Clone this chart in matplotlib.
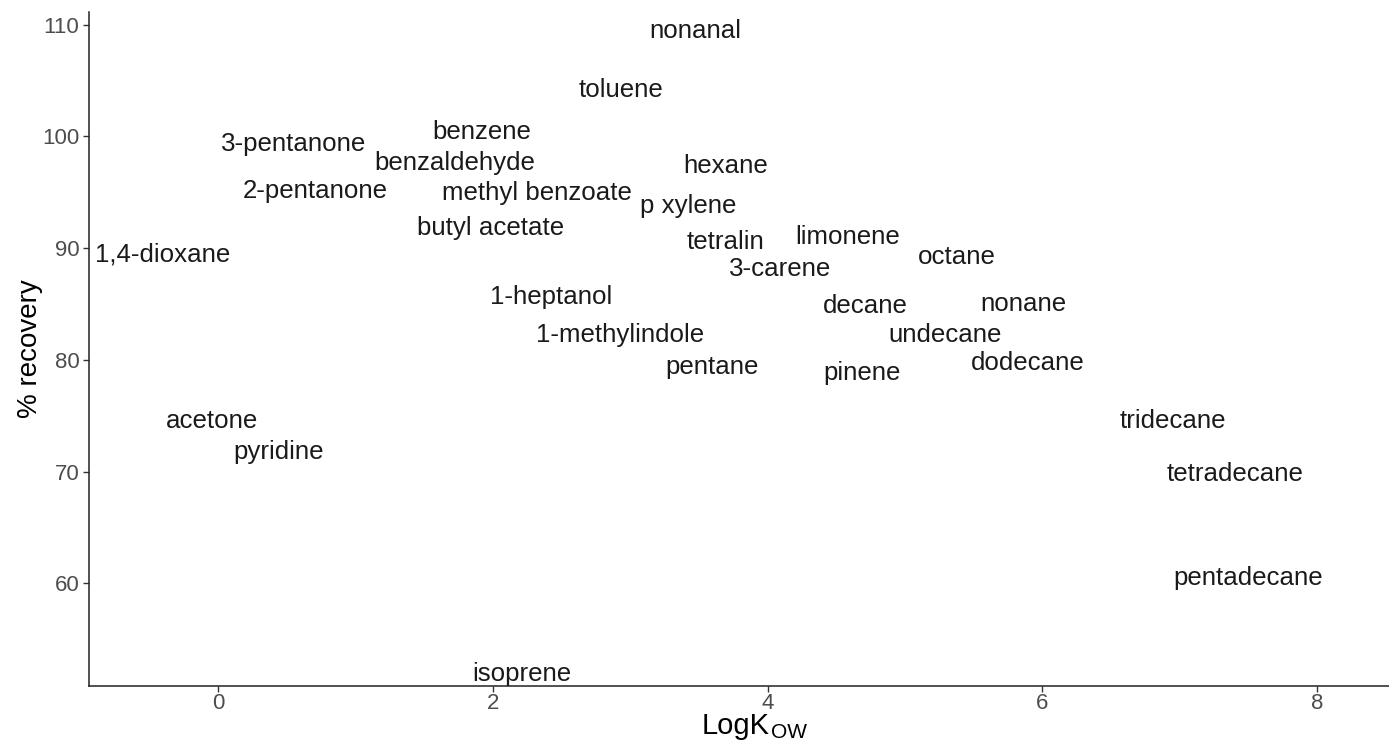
import matplotlib
matplotlib.use("Agg")
import matplotlib.pyplot as plt
import matplotlib.transforms as mtransforms

plt.rcParams['font.family'] = ['Liberation Sans', 'DejaVu Sans']

# compound names, log Kow and percent recovery
compounds = ['nonanal', 'toluene', 'benzene', '3-pentanone', 'benzaldehyde', 'hexane',
             '2-pentanone', 'methyl benzoate', 'p xylene', 'butyl acetate', '1,4-dioxane',
             'tetralin', 'limonene', 'octane', '3-carene', '1-heptanol', 'decane', 'nonane',
             'undecane', '1-methylindole', 'pentane', 'dodecane', 'pinene', 'acetone',
             'pyridine', 'tridecane', 'tetradecane', 'pentadecane', 'isoprene']
log_kow = [3.475, 2.936, 1.922, 0.549, 1.726, 3.698,
           0.705, 2.324, 3.424, 1.983, -0.403,
           3.697, 4.586, 5.377, 4.09, 2.424, 4.712, 5.86,
           5.292, 2.93, 3.596, 5.895, 4.688, -0.045,
           0.442, 6.948, 7.406, 7.496, 2.213]
recovery = [109.6, 104.35, 100.6, 99.55, 97.85, 97.55,
            95.3, 95.15, 94.0, 92.0, 89.6,
            90.8, 91.2, 89.4, 88.35, 85.8, 85.0, 85.25,
            82.45, 82.4, 79.55, 79.95, 79.05, 74.75,
            72.0, 74.7, 69.95, 60.7, 52.1]

W, H = 1389, 745
fig = plt.figure(figsize=(W / 100, H / 100), dpi=100)
ax = fig.add_axes([0.0641, 0.0792, 0.9359, 0.905])

label_size = 18.6
# anchor labels at the middle of their cap height, like geom_text
shift = mtransforms.offset_copy(ax.transData, fig=fig, x=0, y=-0.358 * label_size, units='points')
for name, x, y in zip(compounds, log_kow, recovery):
    ax.text(x, y, name, transform=shift, ha='center', va='baseline',
            fontsize=label_size, color='#1a1a1a')

ax.set_xlim(-0.938, 8.523)
ax.set_ylim(50.82, 111.16)
ax.set_xticks([0, 2, 4, 6, 8])
ax.set_yticks([60, 70, 80, 90, 100, 110])

for side in ['top', 'right']:
    ax.spines[side].set_visible(False)
for side in ['left', 'bottom']:
    ax.spines[side].set_color('#222222')
    ax.spines[side].set_linewidth(1.1)

ax.tick_params(axis='both', length=4, width=1.0, color='#333333',
               labelsize=16, labelcolor='#4D4D4D', pad=3)
ax.tick_params(axis='x', pad=1)

ax.set_ylabel('% recovery', fontsize=20, color='black', labelpad=-0.5)

# x title: LogK with a lowered, smaller OW
fig.text(770 / W, (H - 734) / H, 'LogK', ha='right', va='baseline',
         fontsize=21, color='black')
fig.text(771 / W, (H - 737.5) / H, 'OW', ha='left', va='baseline',
         fontsize=15, color='black')

fig.savefig('out.png', dpi=100)
